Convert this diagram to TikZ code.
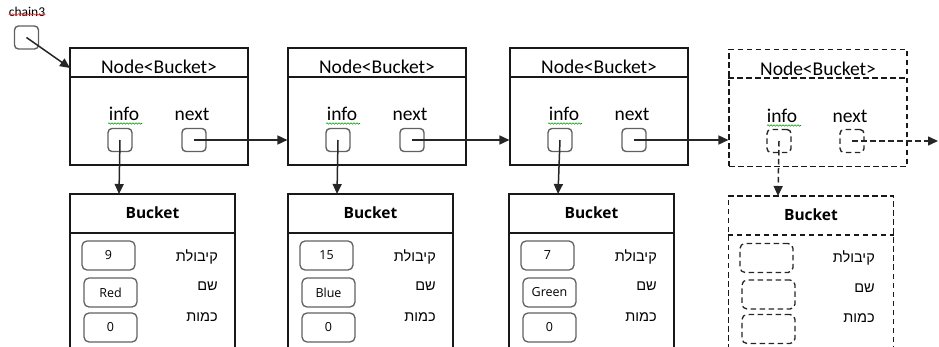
\documentclass[tikz,border=0pt]{standalone}
\usepackage{fontspec}
\setmainfont{Carlito}
\newfontfamily\valfont{Open Sans}
\newfontfamily\hebfont[Script=Hebrew]{Liberation Sans}
\TeXXeTstate=1
\usetikzlibrary{arrows.meta,decorations.pathmorphing,calc}

\tikzset{
  lbl/.style={font=\fontsize{19.5}{19.5}\selectfont, inner sep=0pt},
  smalllbl/.style={font=\fontsize{13.5}{13.5}\selectfont, inner sep=0pt},
  titlebold/.style={font=\valfont\bfseries\fontsize{15.5}{15.5}\selectfont, inner sep=0pt},
  heblbl/.style={font=\hebfont\fontsize{14.5}{14.5}\selectfont, inner sep=0pt, anchor=east},
  framebox/.style={draw=black!90, line width=1.1pt, minimum width=178pt, minimum height=117pt, inner sep=0pt},
  bucketbox/.style={draw=black!90, line width=1.1pt, minimum width=165pt, minimum height=170pt, inner sep=0pt},
  ptrbox/.style={draw=black!62, line width=1.4pt, rounded corners=4pt, minimum width=24pt, minimum height=23pt, inner sep=0pt},
  valbox/.style={draw=black!62, line width=1.3pt, rounded corners=5pt, minimum width=53pt, minimum height=29pt, inner sep=0pt, font=\valfont\fontsize{12.5}{12.5}\selectfont},
  link/.style={draw=black!85, line width=1.5pt, -{Triangle[length=10pt,width=9pt]}},
  dashpat/.style={dash pattern=on 5.5pt off 3.5pt},
  squig/.style={line width=0.6pt, decorate, decoration={snake, amplitude=0.7pt, segment length=3pt}},
}

\begin{document}
\begin{tikzpicture}[x=1pt, y=-1pt]
  \useasboundingbox (0,0) rectangle (939,347);
  \clip (0,0) rectangle (939,347);

  % head reference
  \node[smalllbl] (c3) at (27,12) {chain3};
  \draw[squig, red!85] ($(c3.south west)+(0,-2.5)$) -- ($(c3.south east)+(0,-2.5)$);
  \node[ptrbox] (head) at (26.5,37.5) {};
  \coordinate (n1in) at (70,68);

  % solid list nodes with their buckets
  \foreach \i/\x/\bx/\cap/\nm in {1/70/70/9/Red, 2/288/288/15/Blue, 3/510/509/7/Green}{
    \node[framebox] (n\i) at (\x+89,106.5) {};
    \draw[line width=1.1pt, black!90] (n\i.west |- 0,77) -- (n\i.east |- 0,77);
    \node[lbl] (t\i) at (\x+89,66.5) {Node<Bucket>};
    \node[lbl] (il\i) at (\x+54,114) {info};
    \draw[squig, green!60!black] (\x+38,123.5) -- (\x+72,123.5);
    \node[lbl] (nl\i) at (\x+122,114) {next};
    \node[ptrbox] (info\i) at (\x+50,140) {};
    \node[ptrbox] (next\i) at (\x+124,140) {};

    \node[bucketbox] (b\i) at (\bx+82.5,279) {};
    \draw[line width=1.1pt, black!90] (b\i.west |- 0,233) -- (b\i.east |- 0,233);
    \node[titlebold] (bt\i) at (\bx+82.5,213) {Bucket};
    \node[valbox] (v\i a) at (\bx+38.5,255.5) {\cap};
    \node[valbox] (v\i b) at (\bx+40.5,292.5) {\nm};
    \node[valbox] (v\i c) at (\bx+40.5,327.5) {0};
    \node[heblbl] (h\i a) at (\bx+148,257) {\beginR קיבולת\endR};
    \node[heblbl] (h\i b) at (\bx+148,286) {\beginR שם\endR};
    \node[heblbl] (h\i c) at (\bx+148,317) {\beginR כמות\endR};
    \coordinate (btop\i) at (\bx+49,194);
  }

  % dashed (not yet created) node and bucket
  \node[framebox, dashpat] (n4) at (729+89,108) {};
  \draw[line width=1.1pt, black!90, dashpat] (n4.west |- 0,78) -- (n4.east |- 0,78);
  \node[lbl] (t4) at (729+89,69) {Node<Bucket>};
  \node[lbl] (il4) at (729+53,116) {info};
  \draw[squig, green!60!black] (729+38,125.5) -- (729+72,125.5);
  \node[lbl] (nl4) at (729+121,116) {next};
  \node[ptrbox, dashpat, draw=black!85] (info4) at (779,141) {};
  \node[ptrbox, dashpat, draw=black!85] (next4) at (852,141) {};

  \node[bucketbox, dashpat] (b4) at (729+82,281) {};
  \draw[line width=1.1pt, black!90, dashpat] (b4.west |- 0,235) -- (b4.east |- 0,235);
  \node[titlebold] (bt4) at (729+82,215) {Bucket};
  \node[valbox, dashpat, draw=black!85] (v4a) at (766.5,258) {};
  \node[valbox, dashpat, draw=black!85] (v4b) at (768.5,294.5) {};
  \node[valbox, dashpat, draw=black!85] (v4c) at (768.5,329) {};
  \node[heblbl] (h4a) at (875,258) {\beginR קיבולת\endR};
  \node[heblbl] (h4b) at (875,288) {\beginR שם\endR};
  \node[heblbl] (h4c) at (875,318) {\beginR כמות\endR};
  \coordinate (btop4) at (778,196);
  \coordinate (tail) at (938,141);

  % connectors
  \draw[link] (head.center) -- (n1in);
  \draw[link] (next1.center) -- (next1.center -| n2.west);
  \draw[link] (next2.center) -- (next2.center -| n3.west);
  \draw[link] (next3.center) -- (next3.center -| n4.west);
  \draw[link, dashpat] (next4.center) -- (tail);
  \foreach \i in {1,2,3}{
    \draw[link] (info\i.center) -- (btop\i);
  }
  \draw[link, dashpat] (info4.center) -- (btop4);
\end{tikzpicture}
\end{document}
